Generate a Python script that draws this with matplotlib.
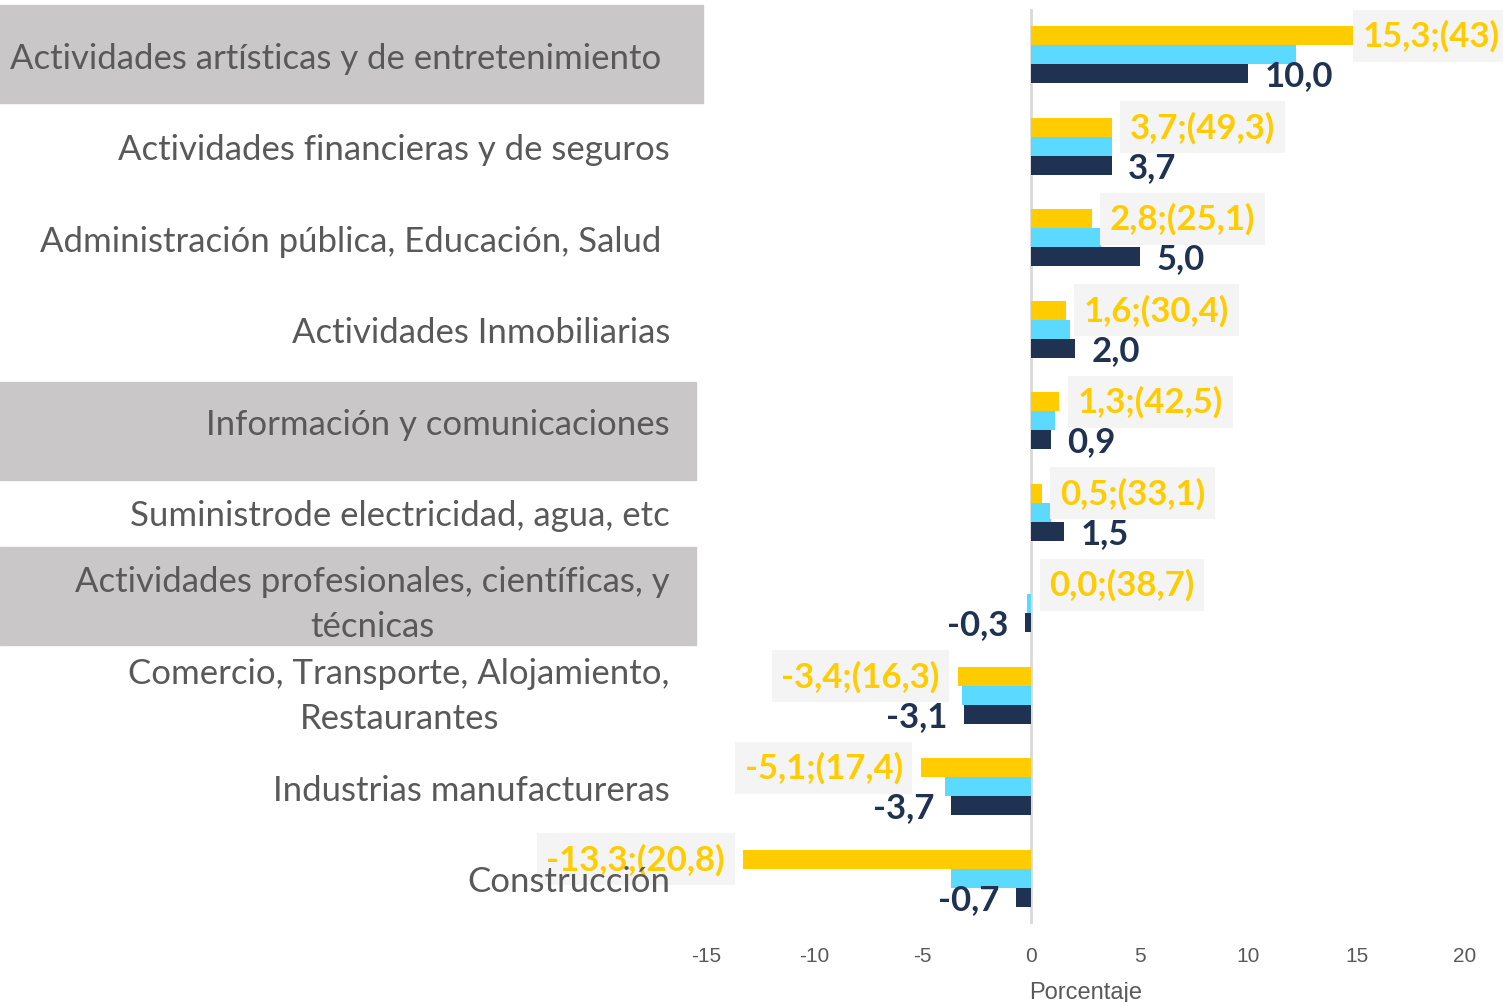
import matplotlib
matplotlib.use("Agg")
import matplotlib.pyplot as plt
from matplotlib.patches import Rectangle
import numpy as np

plt.rcParams["axes.unicode_minus"] = False

# categories top to bottom
categories = [
    "Actividades artísticas y de entretenimiento ",
    "Actividades financieras y de seguros",
    "Administración pública, Educación, Salud ",
    "Actividades Inmobiliarias",
    "Información y comunicaciones",
    "Suministrode electricidad, agua, etc",
    "Actividades profesionales, científicas, y\ntécnicas",
    "Comercio, Transporte, Alojamiento,\nRestaurantes",
    "Industrias manufactureras",
    "Construcción",
]
yellow = [15.3, 3.7, 2.8, 1.6, 1.3, 0.5, 0.0, -3.4, -5.1, -13.3]
yellow_paren = ["43", "49,3", "25,1", "30,4", "42,5", "33,1", "38,7", "16,3", "17,4", "20,8"]
cyan = [12.2, 3.7, 3.2, 1.8, 1.1, 0.9, -0.2, -3.2, -4.0, -3.7]
navy = [10.0, 3.7, 5.0, 2.0, 0.9, 1.5, -0.3, -3.1, -3.7, -0.7]
highlighted = [0, 4, 6]

C_YEL = "#FFCC00"
C_CYA = "#5BD9FF"
C_NAV = "#1F3251"
C_TXT = "#595959"


def fmt(v):
    return f"{v:.1f}".replace(".", ",")


fig = plt.figure(figsize=(15.03, 10.03), dpi=100)
W, H = 1503, 1003
ax = fig.add_axes([706 / W, 1 - 925 / H, (1465 - 706) / W, (925 - 10) / H])

# gray highlight boxes behind some category labels
boxes = {0: (0, 6, 703, 104), 4: (0, 383, 696, 481), 6: (0, 548, 696, 646)}
for i in highlighted:
    x0, y0, x1, y1 = boxes[i]
    fig.patches.append(Rectangle((x0 / W, 1 - y1 / H), (x1 - x0) / W, (y1 - y0) / H,
                                 transform=fig.transFigure, color="#C9C7C8", zorder=-5))

y = np.arange(len(categories))
h = 0.208
ax.barh(y - h, yellow, height=h, color=C_YEL, zorder=2)
ax.barh(y, cyan, height=h, color=C_CYA, zorder=2)
ax.barh(y + h, navy, height=h, color=C_NAV, zorder=2)

ax.set_xlim(-15, 20)
ax.set_ylim(len(categories) - 0.5, -0.5)
ax.axvline(0, color="#D9D9D9", lw=2, zorder=1)

lab_font = dict(family="Lato", weight="bold", fontsize=25)
for i, (v, p) in enumerate(zip(yellow, yellow_paren)):
    s = fmt(v) + ";(" + p + ")"
    if v > 14:
        xy, off, ha = (20, i - h), (25, 0), "right"
    elif v < 0:
        xy, off, ha = (v, i - h), (-13, 0), "right"
    else:
        xy, off, ha = (v, i - h), (13, 0), "left"
    ax.annotate(s, xy=xy, xytext=off, textcoords="offset points", ha=ha, va="center",
                color=C_YEL, annotation_clip=False, zorder=5,
                bbox=dict(boxstyle="square,pad=0.28", fc="#F4F4F4", ec="none"), **lab_font)
for i, v in enumerate(navy):
    ax.annotate(fmt(v), xy=(v, i + h), xytext=(12 if v >= 0 else -12, -1),
                textcoords="offset points", ha="left" if v >= 0 else "right", va="center",
                color=C_NAV, annotation_clip=False, zorder=5, **lab_font)

# category labels (drawn above the data labels, as in the original)
ax.set_yticks(y)
ax.set_yticklabels(categories, family="Lato", fontsize=25, color=C_TXT,
                   multialignment="center", linespacing=1.5)
for t in ax.get_yticklabels():
    if "\n" in t.get_text():
        t.set_verticalalignment("center")
ax.tick_params(axis="y", length=0, pad=26)
ax.yaxis.set_zorder(6)

ax.set_xticks(range(-15, 21, 5))
ax.tick_params(axis="x", length=0, pad=16, labelsize=15, labelcolor=C_TXT)
for t in ax.get_xticklabels():
    t.set_family("Liberation Sans")
ax.set_xlabel("Porcentaje", fontsize=17, color=C_TXT, family="Liberation Sans")
ax.xaxis.set_label_coords((1086 - 706) / (1465 - 706), -0.062)

for s in ax.spines.values():
    s.set_visible(False)
ax.patch.set_alpha(0)

fig.savefig("out.png", dpi=100)
